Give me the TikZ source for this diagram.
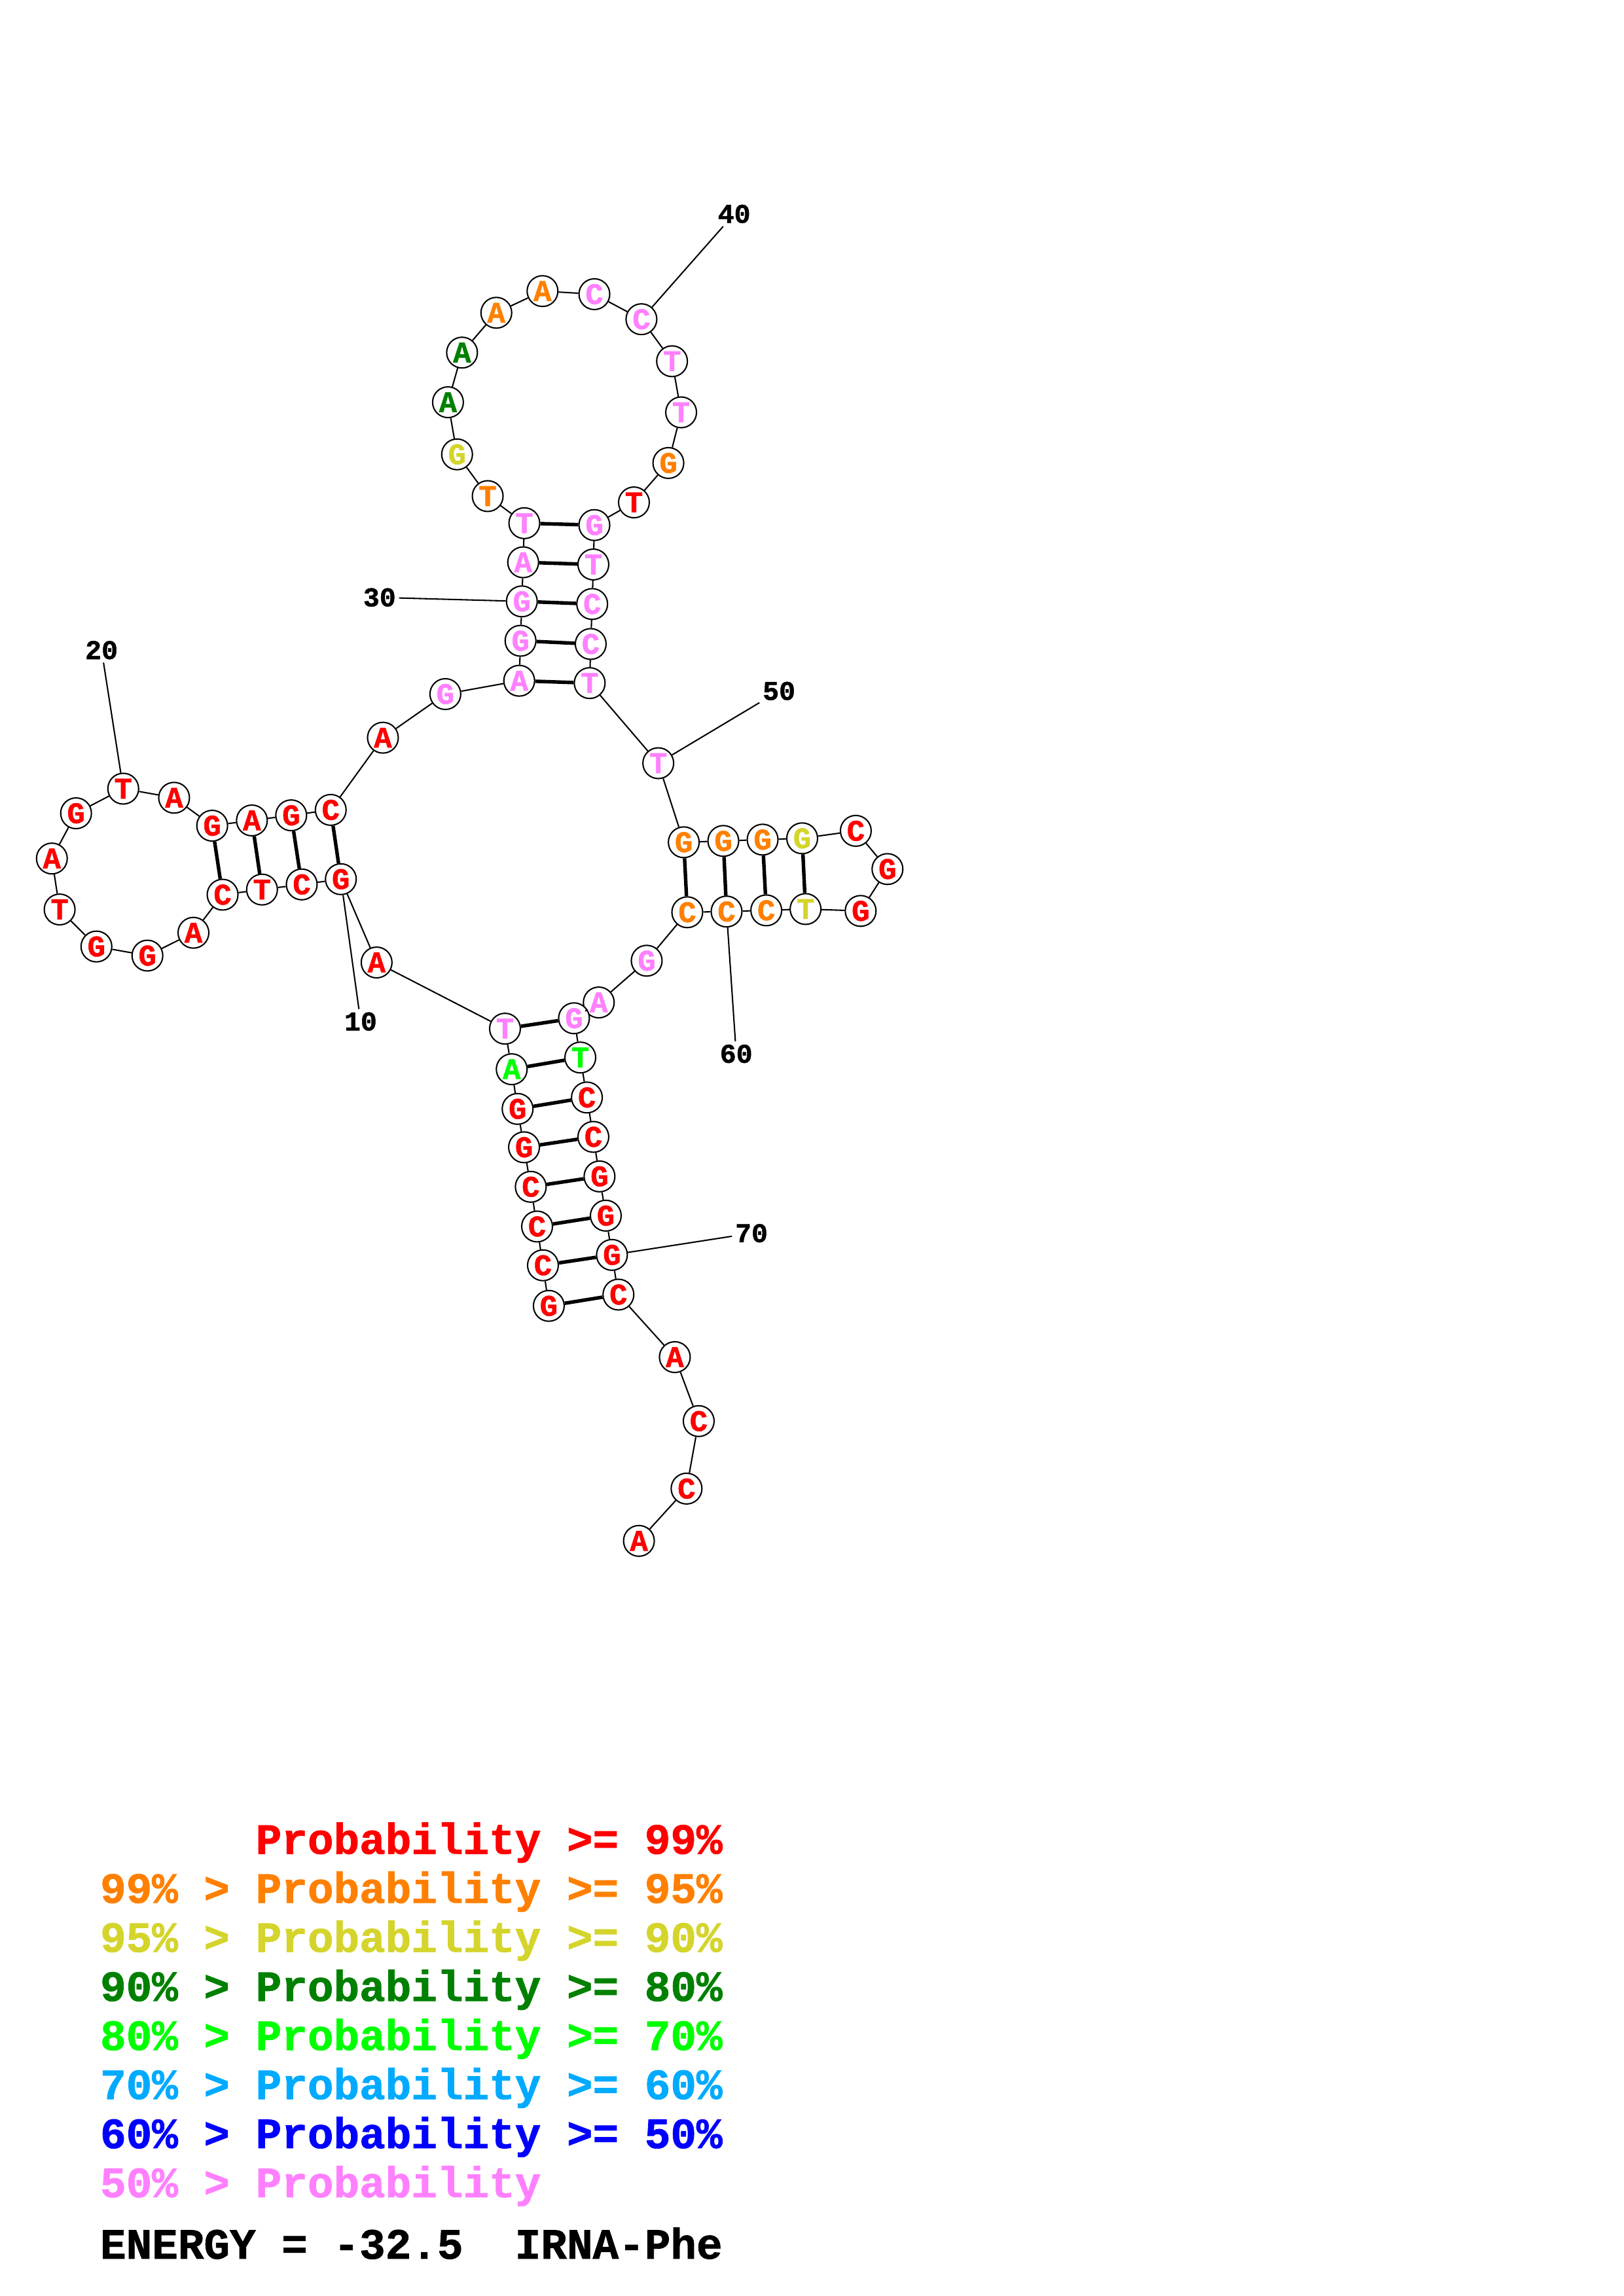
\documentclass[tikz,border=0pt]{standalone}
\usepackage{fontspec}
\setmonofont{Liberation Mono}[BoldFeatures={FakeBold=1.2}]
\definecolor{pr99}{HTML}{FF0000}
\definecolor{pr95}{HTML}{FF8000}
\definecolor{pr90}{HTML}{D4D42C}
\definecolor{pr80}{HTML}{008000}
\definecolor{pr70}{HTML}{00FF00}
\definecolor{pr60}{HTML}{00AAFF}
\definecolor{pr50}{HTML}{0000FF}
\definecolor{prlo}{HTML}{FF80FF}
\tikzset{
  nt/.style={circle,draw,line width=0.5pt,fill=white,minimum size=3.98mm,inner sep=0pt,
    font=\ttfamily\bfseries\fontsize{11}{11}\selectfont},
  bb/.style={line width=0.5pt},
  bp/.style={line width=1.3pt},
  idx/.style={inner sep=1pt,font=\ttfamily\bfseries\fontsize{10}{10}\selectfont},
  leg/.style={anchor=base west,inner sep=0pt,font=\ttfamily\bfseries\fontsize{15.9}{16}\selectfont}
}

\begin{document}
\begin{tikzpicture}[x=0.189531mm,y=-0.189413mm]
  \useasboundingbox (0,0) rectangle (1108,1568);
  % bases: index/x/y/base/colour
  \foreach \i/\x/\y/\b/\c in {
    1/374.5/891.8/G/pr99, 2/370.5/864.1/C/pr99, 3/366.5/837.6/C/pr99,
    4/362.2/810.5/C/pr99, 5/357.6/783.5/G/pr99, 6/353.2/757.3/G/pr99,
    7/349.2/730.2/A/pr70, 8/344.6/702.5/T/prlo, 9/257/657.3/A/pr99,
    10/232.6/600.4/G/pr99, 11/205.9/604/C/pr99, 12/178.8/607.5/T/pr99,
    13/151.9/611/C/pr99, 14/132/637/A/pr99, 15/100.6/652.6/G/pr99,
    16/65.8/646.4/G/pr99, 17/40.7/621.1/T/pr99, 18/35.4/586.3/A/pr99,
    19/51.9/555.4/G/pr99, 20/84.1/538.6/T/pr99, 21/118.8/544.8/A/pr99,
    22/144.8/563.9/G/pr99, 23/171.9/560.3/A/pr99, 24/198.7/556.8/G/pr99,
    25/225.7/553.1/C/pr99, 26/261.3/503.8/A/pr99, 27/303.9/474/G/prlo,
    28/354.3/464.9/A/prlo, 29/355.2/437.6/G/prlo, 30/356.1/410.7/G/prlo,
    31/357/384/A/prlo, 32/357.8/357.3/T/prlo, 33/332.8/338.8/T/pr95,
    34/311.9/310.3/G/pr90, 35/305.7/274.7/A/pr80, 36/315.3/240.8/A/pr80,
    37/338.7/213.6/A/pr95, 38/370.2/198.8/A/pr95, 39/405.6/200.9/C/prlo,
    40/437.7/218/C/prlo, 41/458.6/246.7/T/prlo, 42/464.8/281.6/T/prlo,
    43/456.1/316.2/G/pr95, 44/432.6/343.1/T/pr99, 45/405.6/358.6/G/prlo,
    46/404.9/385.5/T/prlo, 47/404.1/412.5/C/prlo, 48/403.1/439.8/C/prlo,
    49/402.4/466.5/T/prlo, 50/449.2/521.2/T/prlo, 51/466.6/575.2/G/pr95,
    52/493.6/574.3/G/pr95, 53/520.4/573.4/G/pr95, 54/547.4/572.5/G/pr90,
    55/584/567.4/C/pr99, 56/605.6/593.5/G/pr99, 57/587.3/622.1/G/pr99,
    58/549.7/620.8/T/pr90, 59/522.9/621.7/C/pr95, 60/495.8/622.5/C/pr95,
    61/469/623/C/pr95, 62/441.3/656.1/G/prlo, 63/408.6/684.6/A/prlo,
    64/391.7/695.4/G/prlo, 65/396/722.2/T/pr70, 66/400.5/749.5/C/pr99,
    67/404.9/776.4/C/pr99, 68/409.1/803.4/G/pr99, 69/413.4/830.2/G/pr99,
    70/417.6/857/G/pr99, 71/422/884.1/C/pr99, 72/460.5/926.8/A/pr99,
    73/476.8/970.5/C/pr99, 74/468.5/1016.6/C/pr99, 75/436/1052.3/A/pr99}
    \node[nt,text=\c] (n\i) at (\x,\y) {\b};
  % backbone
  \foreach \i in {1,...,74}{
    \pgfmathtruncatemacro\j{\i+1}
    \draw[bb] (n\i) -- (n\j);}
  % base pairs
  \foreach \a/\b in {1/71,2/70,3/69,4/68,5/67,6/66,7/65,8/64,
      10/25,11/24,12/23,13/22,28/49,29/48,30/47,31/46,32/45,
      51/61,52/60,53/59,54/58}
    \draw[bp] (n\a) -- (n\b);
  % position numbers
  \foreach \i/\x/\y in {10/246.1/697.6, 20/69.3/444, 30/259/408,
      40/501/146.1, 50/531.6/471.9, 60/502.4/719.7, 70/512.8/842.2}{
    \node[idx] (l\i) at (\x,\y) {\i};
    \draw[bb] (n\i) -- (l\i);}
  % legend
  \node[leg,text=pr99] (k99) at (68,1266) {\hphantom{99\% > }Probability >= 99\%};
  \node[leg,text=pr95] (k95) at (68,1299.5) {99\% > Probability >= 95\%};
  \node[leg,text=pr90] (k90) at (68,1333) {95\% > Probability >= 90\%};
  \node[leg,text=pr80] (k80) at (68,1366.5) {90\% > Probability >= 80\%};
  \node[leg,text=pr70] (k70) at (68,1400) {80\% > Probability >= 70\%};
  \node[leg,text=pr60] (k60) at (68,1433.5) {70\% > Probability >= 60\%};
  \node[leg,text=pr50] (k50) at (68,1467) {60\% > Probability >= 50\%};
  \node[leg,text=prlo] (klo) at (68,1500.5) {50\% > Probability};
  \node[leg] (energy) at (68,1542.5) {ENERGY = -32.5\ \ IRNA-Phe};
\end{tikzpicture}
\end{document}
